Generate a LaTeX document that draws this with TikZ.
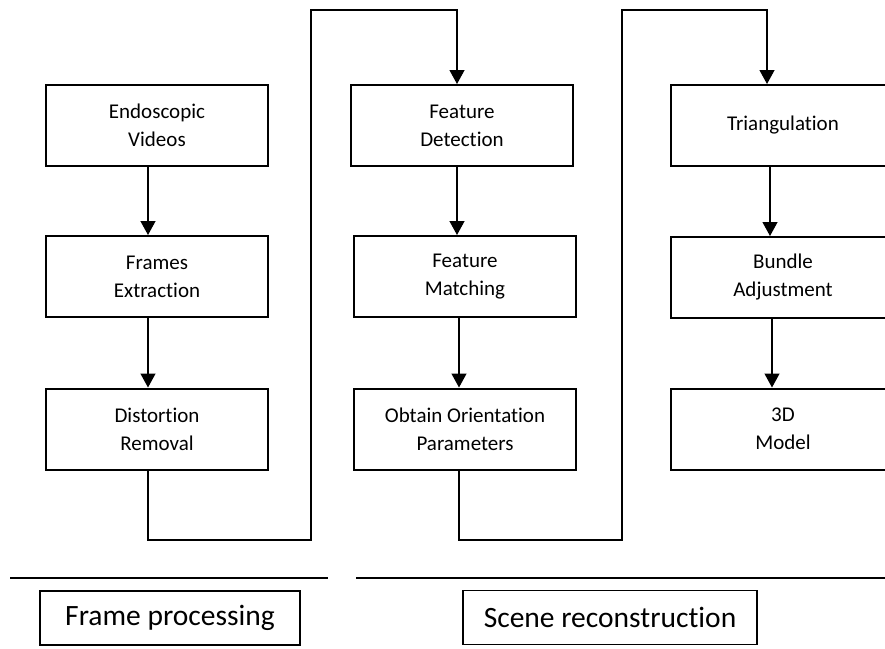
\documentclass[tikz,border=0pt]{standalone}
\usepackage{fontspec}
\setmainfont[Ligatures=NoCommon]{Carlito}
\usetikzlibrary{arrows.meta}
\tikzset{every picture/.style={line width=1.3pt}}

\begin{document}
\begin{tikzpicture}[x=1pt,y=1pt,yscale=-1,xscale=1,
    stepbox/.style={draw,line width=2pt,minimum width=222pt,minimum height=81pt,inner sep=0pt,align=center,font=\fontsize{21}{28}\selectfont},
    labelbox/.style={draw,line width=1.3pt,minimum height=54pt,inner sep=0pt,font=\fontsize{29.5}{34}\selectfont},
    arr/.style={-{Triangle[width=15pt,length=14pt]}}]
    \clip (0,0) rectangle (885,648);

    % arrow columns
    \coordinate (c1) at (148,0);
    \coordinate (c2) at (457,0);
    \coordinate (c3) at (770,0);

    % Frame processing column
    \node[stepbox] (ev) at (157,125.5) {Endoscopic\\Videos};
    \node[stepbox] (fe) at (157,276.5) {Frames\\Extraction};
    \node[stepbox] (dr) at (157,429) {Distortion\\Removal};

    % Scene reconstruction, first column
    \node[stepbox] (fd) at (462,125.5) {Feature\\Detection};
    \node[stepbox] (fm) at (465,276.5) {Feature\\Matching};
    \node[stepbox] (oo) at (465,429) {Obtain Orientation\\Parameters};

    % Scene reconstruction, second column
    \node[stepbox,minimum width=224pt] (tr) at (783,125.5) {Triangulation};
    \node[stepbox,minimum width=224pt] (ba) at (783,277.5) {Bundle\\Adjustment};
    \node[stepbox,minimum width=224pt] (md) at (783,429) {3D\\Model};

    % arrows inside the columns
    \draw[arr] (ev.south -| c1) -- (fe.north -| c1);
    \draw[arr] (fe.south -| c1) -- (dr.north -| c1);
    \draw[arr] (fd.south -| c2) -- (fm.north -| c2);
    \draw[arr] ([xshift=2pt]fm.south -| c2) -- ([xshift=2pt]oo.north -| c2);
    \draw[arr] (tr.south -| c3) -- (ba.north -| c3);
    \draw[arr] ([xshift=2pt]ba.south -| c3) -- ([xshift=2pt]md.north -| c3);

    % links between the columns
    \coordinate (b1) at (311,540);
    \coordinate (t1) at (311,10);
    \draw[arr] (dr.south -| c1) |- (b1) -- (t1) -| (fd.north -| c2);
    \coordinate (b2) at (622,540);
    \coordinate (t2) at (622,10);
    \draw[arr] ([xshift=2pt]oo.south -| c2) |- (b2) -- (t2) -| ([xshift=-3pt]tr.north -| c3);

    % separators
    \draw[line width=1.5pt] (10,578) -- (328,578);
    \draw[line width=1.5pt] (356,578) -- (885,578);

    % stage labels
    \node[labelbox,minimum width=260pt] (fp) at (170,618) {Frame processing};
    \node[labelbox,minimum width=294pt] (sr) at (610,617.5) {Scene reconstruction};
\end{tikzpicture}
\end{document}
